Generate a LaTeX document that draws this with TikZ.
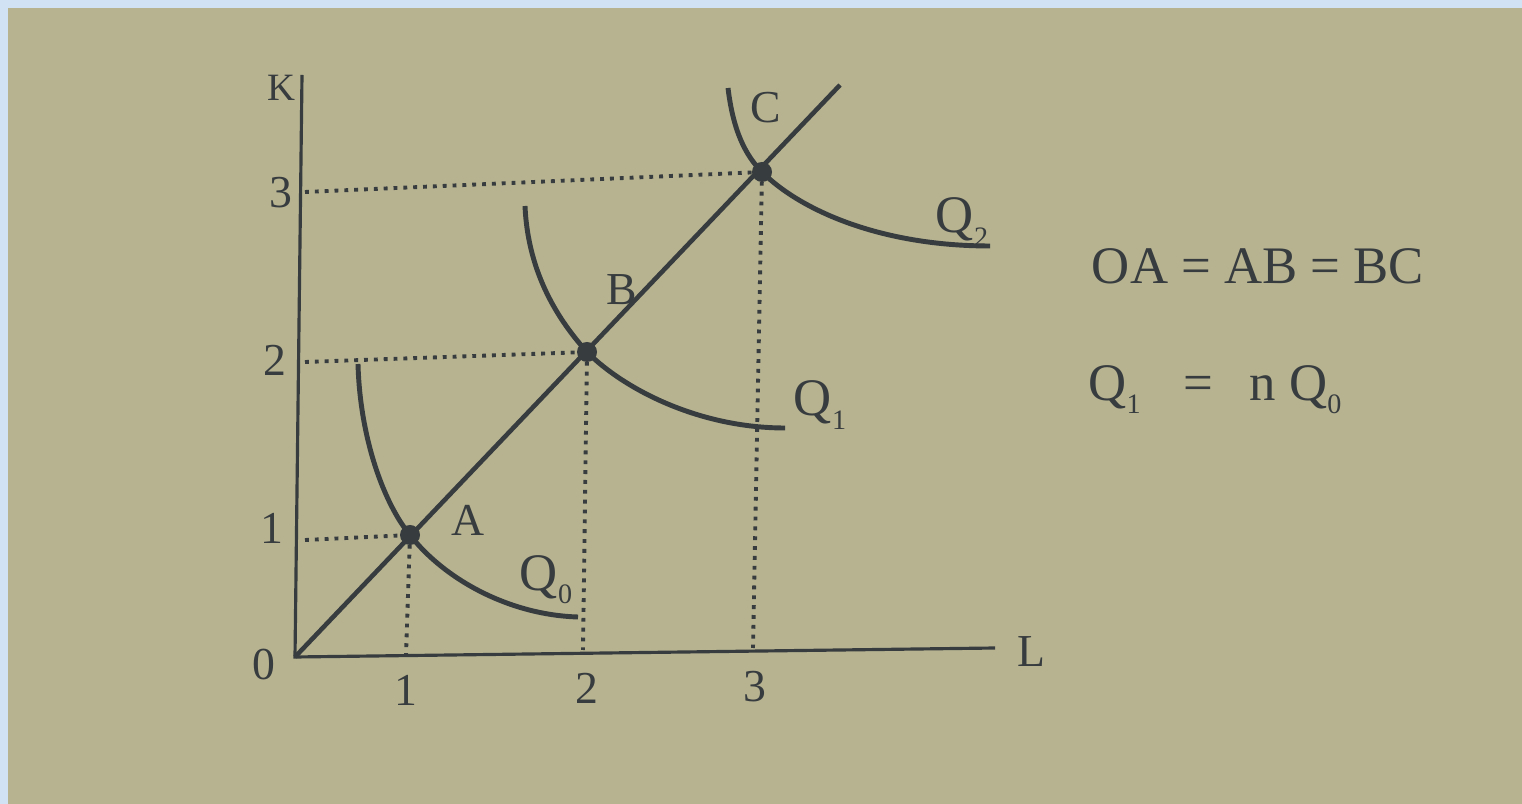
\documentclass[tikz,border=0pt]{standalone}
\usepackage{fontspec}
\setmainfont{Liberation Serif}
\definecolor{page}{RGB}{183,179,145}
\definecolor{frame}{RGB}{208,226,244}
\definecolor{ink}{RGB}{55,60,62}
\newcommand\qsub[1]{\raisebox{-0.55ex}{\fontsize{8}{8}\selectfont #1}}
\tikzset{
  axisline/.style={draw=ink, line width=0.9pt},
  curveline/.style={draw=ink, line width=1.4pt},
  rayline/.style={draw=ink, line width=1.3pt},
  guide/.style={draw=ink, line width=1.1pt, dash pattern=on 1.1pt off 1.7pt},
  dotpt/.style={fill=ink, circle, inner sep=0pt, minimum size=0.2cm},
  lbl/.style={text=ink, inner sep=0pt, font=\fontsize{13}{13}\selectfont},
  biglbl/.style={text=ink, inner sep=0pt, font=\fontsize{15}{15}\selectfont},
}
\begin{document}
\begin{tikzpicture}[x=0.01cm, y=-0.01cm]
\useasboundingbox (0,0) rectangle (1522,804);
\fill[frame] (0,0) rectangle (1522,804);
\fill[page] (8,8) rectangle (1522,804);
% key points
\coordinate (O) at (295,657);
\coordinate (Ktop) at (302,75);
\coordinate (Lend) at (995,648);
\coordinate (Rend) at (840,85);
\coordinate (A) at (410,535);
\coordinate (B) at (587,352);
\coordinate (C) at (762,172);
\coordinate (h1) at (305,540);
\coordinate (h2) at (305,362);
\coordinate (h3) at (305,192);
\coordinate (v1) at (406,655);
\coordinate (v2) at (583,650);
\coordinate (v3) at (753,648);
\coordinate (S0) at (358,364);
\coordinate (E0) at (578,617);
\coordinate (S1) at (525,206);
\coordinate (E1) at (785,428);
\coordinate (S2) at (728,88);
\coordinate (E2) at (990,246);
% guides
\draw[guide] (h1) -- (A);
\draw[guide] (h2) -- (B);
\draw[guide] (h3) -- (C);
\draw[guide] (A) -- (v1);
\draw[guide] (B) -- (v2);
\draw[guide] (C) -- (v3);
% axes
\draw[axisline] (Ktop) -- (O) -- (Lend);
% ray
\draw[rayline] (O) -- (Rend);
% isoquants
\draw[curveline] (S0) .. controls (360,440) and (385,505) .. (A) .. controls (445,580) and (510,615) .. (E0);
\draw[curveline] (S1) .. controls (528,275) and (560,322) .. (B) .. controls (625,390) and (700,428) .. (E1);
\draw[curveline] (S2) .. controls (733,130) and (745,155) .. (C) .. controls (800,210) and (880,246) .. (E2);
% points
\node[dotpt] (pA) at (A) {};
\node[dotpt] (pB) at (B) {};
\node[dotpt] (pC) at (C) {};
% axis labels
\node[lbl, font=\fontsize{11}{11}\selectfont] (lK) at (281,88) {K};
\node[lbl] (l3) at (281,193) {3};
\node[lbl] (l2) at (275,360) {2};
\node[lbl] (l1) at (272,528) {1};
\node[lbl] (l0) at (264,665) {0};
\node[lbl] (x1) at (406,690) {1};
\node[lbl] (x2) at (587,688) {2};
\node[lbl] (x3) at (755,687) {3};
\node[lbl] (lL) at (1031,652) {L};
% point labels
\node[lbl] (tA) at (468,520) {A};
\node[lbl] (tB) at (622,290) {B};
\node[lbl] (tC) at (766,108) {C};
% curve labels
\node[biglbl] (q0) at (546,580) {Q\qsub{0}};
\node[biglbl] (q1) at (820,405) {Q\qsub{1}};
\node[biglbl] (q2) at (962,222) {Q\qsub{2}};
% equations
\node[biglbl] (eq1) at (1258,266) {OA = AB = BC};
\node[biglbl] (eq2) at (1215,390) {Q\qsub{1}\hspace{0.8em}=\hspace{0.7em}n Q\qsub{0}};
\end{tikzpicture}
\end{document}
